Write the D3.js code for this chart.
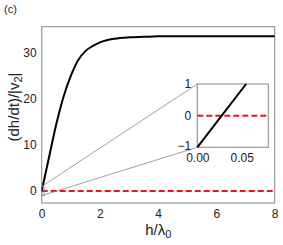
<!DOCTYPE html>
<html><head><meta charset="utf-8">
<script src="https://cdn.jsdelivr.net/npm/d3@7"></script>
<style>
body{margin:0;background:#fff;}
svg{display:block;}
.tick text{font-family:"Liberation Sans",Arial,sans-serif;font-size:12px;fill:#222;}
.lbl{font-family:"Liberation Sans",Arial,sans-serif;fill:#222;}
</style></head>
<body>
<svg id="c" width="283" height="245"></svg>
<script>
// data
const hValues = [0, 0.25, 0.5, 0.75, 1.0, 1.25, 1.5, 1.75, 2.0, 2.5, 3, 3.5, 4, 5, 6, 7, 8];
const rateValues = [0, 7.3, 14.5, 20.5, 25, 28.4, 30.4, 31.5, 32.3, 33.1, 33.4, 33.5, 33.6, 33.6, 33.6, 33.6, 33.6];
const insetH = [0, 0.0275, 0.055];
const insetRate = [-1, 0, 1];
const xTicks = [0, 2, 4, 6, 8];
const yTicks = [0, 10, 20, 30];
const insetXTicks = [0, 0.05];
const insetYTicks = [-1, 0, 1];
const zoomBox = {h: [0, 0.08], v: [-1, 1]};

const svg = d3.select("#c");
const x = d3.scaleLinear().domain([0, 8]).range([41.7, 274.7]);
const y = d3.scaleLinear().domain([-2.6, 35.7]).range([203, 26.7]);
const ix = d3.scaleLinear().domain(zoomBox.h).range([197.3, 268.3]);
const iy = d3.scaleLinear().domain(zoomBox.v).range([147.3, 84]);

// main frame
svg.append("rect").attr("x", x(0)).attr("y", y(35.7)).attr("width", x(8)-x(0)).attr("height", y(-2.6)-y(35.7))
  .attr("fill", "none").attr("stroke", "#9a9a9a").attr("stroke-width", 1.2);

// axes (labels only)
const gx = svg.append("g").attr("transform", `translate(0,${y(-2.6)})`)
  .call(d3.axisBottom(x).tickValues(xTicks).tickSize(0).tickPadding(6).tickFormat(d3.format("d")));
gx.select(".domain").remove();
const gy = svg.append("g").attr("transform", `translate(${x(0)},0)`)
  .call(d3.axisLeft(y).tickValues(yTicks).tickSize(0).tickPadding(5).tickFormat(d3.format("d")));
gy.select(".domain").remove();

// red dashed zero line
svg.append("line").attr("x1", x(0)).attr("x2", x(8)).attr("y1", y(0)).attr("y2", y(0))
  .attr("stroke", "#e8141a").attr("stroke-width", 2).attr("stroke-dasharray", "6,3");

// main curve
const line = d3.line().x((d, i) => x(hValues[i])).y(d => y(d)).curve(d3.curveMonotoneX);
svg.append("path").datum(rateValues).attr("d", line).attr("fill", "none")
  .attr("stroke", "#000").attr("stroke-width", 2);

// zoom indicator + connectors
svg.append("rect").attr("x", x(zoomBox.h[0])).attr("y", y(zoomBox.v[1]))
  .attr("width", x(zoomBox.h[1]) - x(zoomBox.h[0])).attr("height", y(zoomBox.v[0]) - y(zoomBox.v[1]))
  .attr("fill", "none").attr("stroke", "#888").attr("stroke-width", 0.8);
svg.append("line").attr("x1", x(0)).attr("y1", y(1)).attr("x2", ix(0)).attr("y2", iy(1))
  .attr("stroke", "#888").attr("stroke-width", 0.8);
svg.append("line").attr("x1", x(0)).attr("y1", y(-1)).attr("x2", ix(0)).attr("y2", iy(-1))
  .attr("stroke", "#888").attr("stroke-width", 0.8);

// inset
svg.append("rect").attr("x", ix(0)).attr("y", iy(1)).attr("width", ix(0.08)-ix(0)).attr("height", iy(-1)-iy(1))
  .attr("fill", "#fff").attr("stroke", "#9a9a9a").attr("stroke-width", 1.2);
svg.append("line").attr("x1", ix(0)).attr("x2", ix(0.08)).attr("y1", iy(0)).attr("y2", iy(0))
  .attr("stroke", "#e8141a").attr("stroke-width", 2).attr("stroke-dasharray", "6,3");
const iline = d3.line().x((d, i) => ix(insetH[i])).y(d => iy(d));
svg.append("path").datum(insetRate).attr("d", iline).attr("fill", "none")
  .attr("stroke", "#000").attr("stroke-width", 2);
const igx = svg.append("g").attr("transform", `translate(0,${iy(-1)})`)
  .call(d3.axisBottom(ix).tickValues(insetXTicks).tickSize(0).tickPadding(6).tickFormat(d3.format(".2f")));
igx.select(".domain").remove();
const igy = svg.append("g").attr("transform", `translate(${ix(0)},0)`)
  .call(d3.axisLeft(iy).tickValues(insetYTicks).tickSize(0).tickPadding(6).tickFormat(d => d < 0 ? "\u2212" + Math.abs(d) : d));
igy.select(".domain").remove();
igy.selectAll(".tick text").filter(d => d < 0).attr("dy", "0.2em");

// labels
svg.append("text").attr("class", "lbl").attr("x", 4).attr("y", 13).attr("font-size", 11).text("(c)");
const yl = svg.append("text").attr("class", "lbl").attr("font-size", 15)
  .attr("transform", `translate(19,107) rotate(-90)`).attr("text-anchor", "middle");
yl.append("tspan").text("(dh/dt)/|v");
yl.append("tspan").attr("font-size", 11).attr("dy", 3).text("2");
yl.append("tspan").attr("dy", -3).text("|");
const xl = svg.append("text").attr("class", "lbl").attr("font-size", 15)
  .attr("x", (x(0)+x(8))/2).attr("y", 235).attr("text-anchor", "middle");
xl.append("tspan").text("h/λ");
xl.append("tspan").attr("font-size", 11).attr("dy", 3).text("0");
</script>
</body></html>
